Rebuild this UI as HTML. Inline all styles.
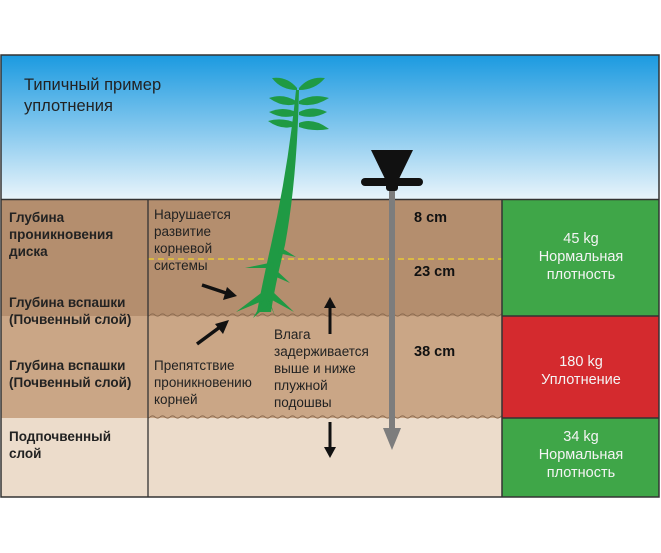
<!DOCTYPE html>
<html><head><meta charset="utf-8"><style>
body{margin:0;background:#fff;}
svg{display:block;font-family:"Liberation Sans",Arial,sans-serif;}
</style></head><body>
<svg width="661" height="553" viewBox="0 0 661 553">
<defs>
<linearGradient id="sky" x1="0" y1="0" x2="0" y2="1">
<stop offset="0" stop-color="#1b9ae0"/><stop offset="0.55" stop-color="#8ccbef"/><stop offset="1" stop-color="#eaf5fb"/>
</linearGradient>
<pattern id="wave" width="10" height="6" patternUnits="userSpaceOnUse">
<path d="M0 3 Q2.5 0.8 5 3 T10 3" fill="none" stroke="#8a6a4f" stroke-width="0.9"/>
</pattern>
</defs>
<rect x="0" y="0" width="661" height="553" fill="#fff"/>
<rect x="1" y="55" width="658" height="145" fill="url(#sky)"/>
<rect x="1" y="200" width="501" height="116" fill="#b48e6e"/>
<rect x="1" y="316" width="501" height="102" fill="#caa686"/>
<rect x="1" y="418" width="501" height="79" fill="#ecdccb"/>
<rect x="148" y="313" width="354" height="6" fill="url(#wave)"/>
<rect x="148" y="415" width="354" height="6" fill="url(#wave)"/>
<line x1="148" y1="259" x2="502" y2="259" stroke="#f2d52a" stroke-width="1.3" stroke-dasharray="6,4"/>
<rect x="502" y="200" width="157" height="116" fill="#3fa648"/>
<rect x="502" y="316" width="157" height="102" fill="#d42a2e"/>
<rect x="502" y="418" width="157" height="79" fill="#3fa648"/>
<line x1="502" y1="316" x2="659" y2="316" stroke="#333" stroke-width="1.5"/>
<line x1="502" y1="418" x2="659" y2="418" stroke="#333" stroke-width="1.5"/>
<line x1="1" y1="199.5" x2="659" y2="199.5" stroke="#333" stroke-width="1.5"/>
<line x1="148" y1="200" x2="148" y2="497" stroke="#333" stroke-width="1.3"/>
<line x1="502" y1="200" x2="502" y2="497" stroke="#333" stroke-width="1.5"/>
<rect x="1" y="55" width="658" height="442" fill="none" stroke="#333" stroke-width="1.5"/>

<text x="24" y="90" font-size="16.5" fill="#222">Типичный пример</text>
<text x="24" y="111" font-size="16.5" fill="#222">уплотнения</text>

<g font-size="13.5" font-weight="bold" fill="#222">
<text x="9" y="222">Глубина</text>
<text x="9" y="239">проникновения</text>
<text x="9" y="256">диска</text>
<text x="9" y="307">Глубина вспашки</text>
<text x="9" y="324">(Почвенный слой)</text>
<text x="9" y="370">Глубина вспашки</text>
<text x="9" y="387">(Почвенный слой)</text>
<text x="9" y="441">Подпочвенный</text>
<text x="9" y="458">слой</text>
</g>
<g font-size="13.5" fill="#222">
<text x="154" y="219">Нарушается</text>
<text x="154" y="236">развитие</text>
<text x="154" y="253">корневой</text>
<text x="154" y="270">системы</text>
<text x="154" y="370">Препятствие</text>
<text x="154" y="387">проникновению</text>
<text x="154" y="404">корней</text>
<text x="274" y="339">Влага</text>
<text x="274" y="356">задерживается</text>
<text x="274" y="373">выше и ниже</text>
<text x="274" y="390">плужной</text>
<text x="274" y="407">подошвы</text>
</g>
<g font-size="14.5" font-weight="bold" fill="#111">
<text x="414" y="222">8 cm</text>
<text x="414" y="276">23 cm</text>
<text x="414" y="356">38 cm</text>
</g>
<g font-size="14.5" fill="#f4f4f4" text-anchor="middle">
<text x="581" y="243">45 kg</text>
<text x="581" y="261">Нормальная</text>
<text x="581" y="279">плотность</text>
<text x="581" y="366">180 kg</text>
<text x="581" y="384">Уплотнение</text>
<text x="581" y="441">34 kg</text>
<text x="581" y="459">Нормальная</text>
<text x="581" y="477">плотность</text>
</g>

<!-- arrows -->
<g stroke="#111" stroke-width="3.5" fill="#111">
<line x1="202" y1="285" x2="226" y2="293"/>
<polygon points="237,296 223,300 227,287" stroke="none"/>
<line x1="197" y1="344" x2="220" y2="327"/>
<polygon points="229,320 223,334 215,324" stroke="none"/>
</g>
<g stroke="#111" stroke-width="3" fill="#111">
<line x1="330" y1="334" x2="330" y2="306"/>
<polygon points="330,297 324,308 336,308" stroke="none"/>
<line x1="330" y1="422" x2="330" y2="449"/>
<polygon points="330,458 324,447 336,447" stroke="none"/>
</g>

<!-- probe -->
<rect x="389" y="180" width="6" height="250" fill="#7d7d7d"/>
<polygon points="383,428 401,428 392,450" fill="#7d7d7d"/>
<polygon points="371,150 413,150 397,183 387,183" fill="#111"/>
<rect x="361" y="178" width="62" height="8" rx="4" fill="#111"/>
<rect x="386" y="183" width="12" height="8" rx="3" fill="#111"/>

<!-- plant -->
<g fill="#1f9a44">
<path d="M296 90 L299 90 Q297 180 285 245 Q275 285 271 312 L257 312 Q263 280 271 245 Q288 170 296 90Z"/>
<path d="M297 88 Q287 76 272 78 Q281 90 297 90Z"/>
<path d="M299 88 Q309 76 325 78 Q315 90 299 90Z"/>
<path d="M296 101 Q283 93 269 98 Q283 108 296 104Z"/>
<path d="M299 101 Q313 93 329 98 Q313 108 299 104Z"/>
<path d="M296 112 Q283 106 269 112 Q283 120 296 115Z"/>
<path d="M299 112 Q313 105 327 112 Q313 120 299 115Z"/>
<path d="M296 123 Q282 117 268 121 Q282 131 296 126Z"/>
<path d="M299 123 Q313 117 329 129 Q313 132 299 127Z"/>
<path d="M280 247 L296 257 L278 253Z"/>
<path d="M274 262 L245 268 L273 268Z"/>
<path d="M276 270 L290 283 L274 276Z"/>
<path d="M269 287 L236 312 L265 300Z"/>
<path d="M271 290 L294 312 L272 300Z"/>
<path d="M265 298 L253 318 L268 305Z"/>
<path d="M267 298 L275 316 L270 302Z"/>
</g>
</svg>
</body></html>
